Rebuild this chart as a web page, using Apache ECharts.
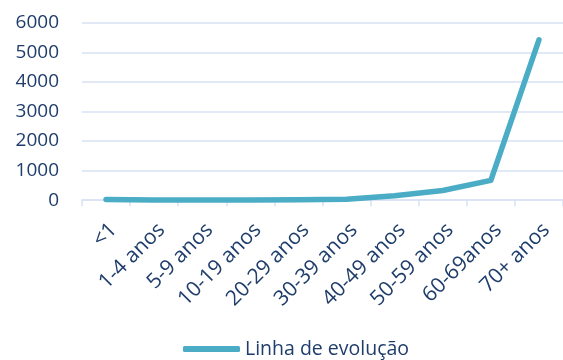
<!DOCTYPE html>
<html>
<head>
<meta charset="utf-8">
<script src="https://cdn.jsdelivr.net/npm/echarts@6/dist/echarts.min.js"></script>
<style>html,body{margin:0;padding:0;background:#fff}#c{width:563px;height:360px}</style>
</head>
<body>
<div id="c"></div>
<script>
const categories = ['<1', '1-4 anos', '5-9 anos', '10-19 anos', '20-29 anos', '30-39 anos', '40-49 anos', '50-59 anos', '60-69anos', '70+ anos'];
const values = [25, 5, 5, 10, 15, 35, 150, 330, 670, 5420];
const yTicks = { min: 0, max: 6000, interval: 1000 };
const seriesName = 'Linha de evolução';

const textColor = '#1F3D6B';
const gridColor = '#D9E2F3';
const lineColor = '#4BACC6';
const font = 'Open Sans';

const chart = echarts.init(document.getElementById('c'), null, { renderer: 'canvas' });
chart.setOption({
  animation: false,
  grid: { left: 82, top: 22.7, width: 490, height: 177.5, containLabel: false },
  legend: {
    top: 334, left: 178,
    itemWidth: 57, itemHeight: 6, itemGap: 4,
    icon: 'roundRect',
    textStyle: { color: textColor, fontFamily: font, fontSize: 19.5 },
    data: [seriesName]
  },
  xAxis: {
    type: 'category',
    data: categories,
    boundaryGap: true,
    axisLine: { lineStyle: { color: gridColor, width: 1.5 } },
    axisTick: { show: true, length: 6, lineStyle: { color: gridColor, width: 1.5 } },
    axisLabel: { rotate: 45, interval: 0, color: textColor, fontFamily: font, fontSize: 21, margin: 19, verticalAlign: 'top' }
  },
  yAxis: {
    type: 'value',
    min: yTicks.min, max: yTicks.max, interval: yTicks.interval,
    axisLine: { show: false },
    axisTick: { show: false },
    splitLine: { lineStyle: { color: gridColor, width: 1.5 } },
    axisLabel: { color: textColor, fontFamily: font, fontSize: 19, margin: 23, formatter: v => String(v) }
  },
  series: [{
    name: seriesName,
    type: 'line',
    data: values,
    symbol: 'none',
    lineStyle: { color: lineColor, width: 5.5, cap: 'round', join: 'round' },
    itemStyle: { color: lineColor }
  }]
});
</script>
</body>
</html>
